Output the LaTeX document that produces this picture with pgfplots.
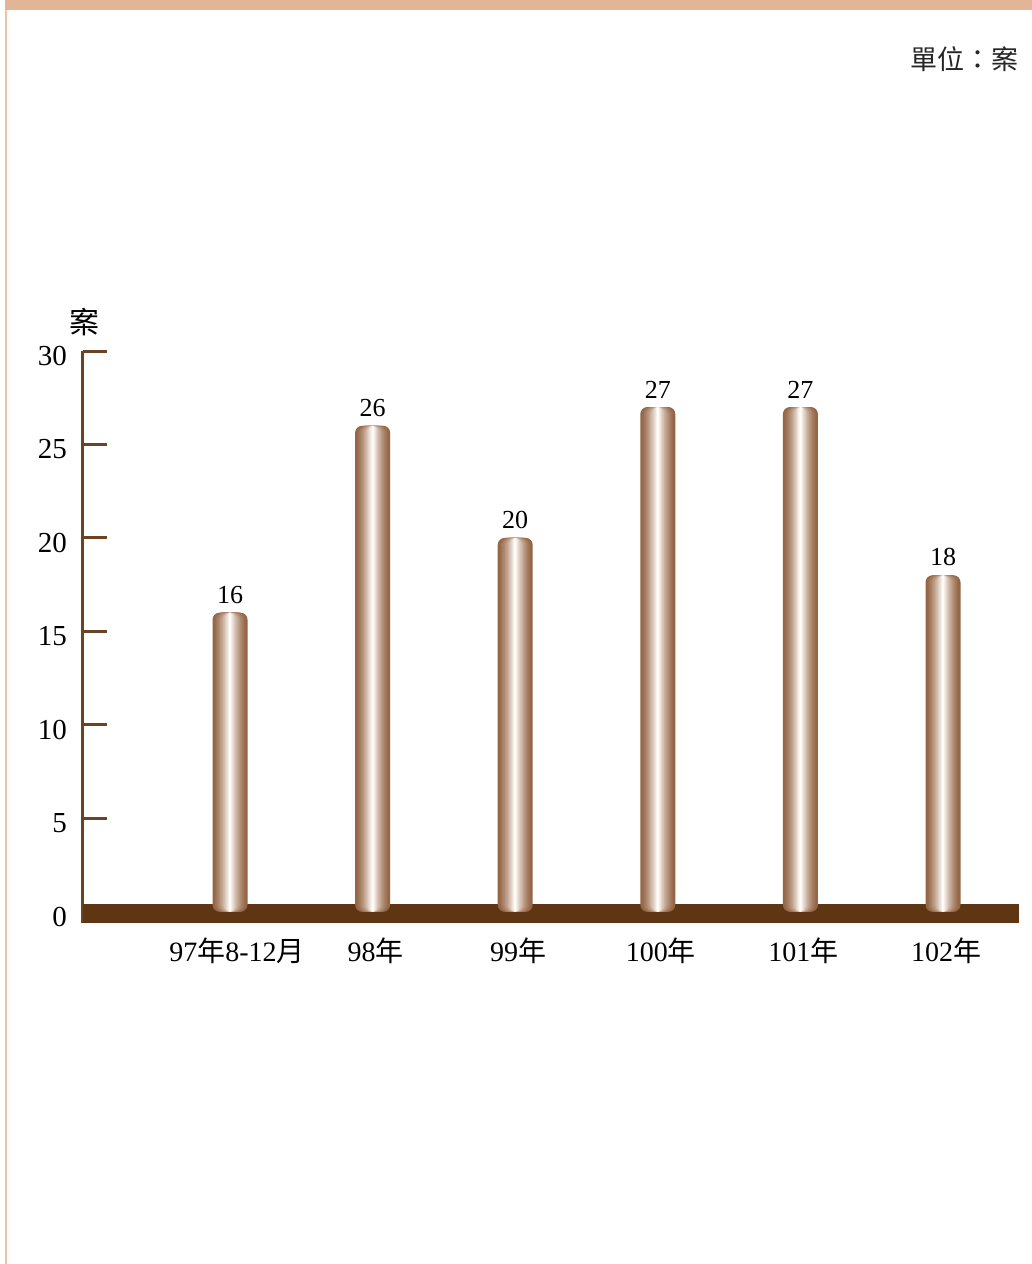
\documentclass[border=0pt]{standalone}
\usepackage{fontspec}
\setmainfont{Liberation Serif}
\newfontfamily\cjk{Noto Sans CJK TC}
\usepackage{pgfplots}
\usepackage{pgfplotstable}
\pgfplotsset{compat=1.18}

\definecolor{peach}{HTML}{E3B597}
\definecolor{peachline}{HTML}{EEC2A8}
\definecolor{baseband}{HTML}{5E3613}
\definecolor{axisbrown}{HTML}{6B4423}
\definecolor{barbrown}{HTML}{946444}
\definecolor{barlight}{HTML}{FFFCF8}

\pgfplotstableread{
x cases
0 16
1 26
2 20
3 27
4 27
5 18
}\casedata

\begin{document}
\begin{tikzpicture}
  % page frame, 1 px = 0.5pt
  \fill[white] (0,0) rectangle (516pt,-632pt);
  \fill[peach] (2.5pt,0) rectangle (516pt,-5pt);
  \fill[peachline] (2.5pt,-5pt) rectangle (3.6pt,-632pt);
  \node[anchor=east, font=\cjk\fontsize{13.5}{15}\selectfont, text=black!85]
    at (513pt,-29.5pt) {單位：案};

  \begin{axis}[
      at={(41.5pt,-461.5pt)}, anchor=south west,
      scale only axis,
      width=468pt, height=286pt,
      xmin=-1.031, xmax=5.533,
      ymin=-0.6, ymax=30,
      clip=false,
      axis y line*=left,
      axis x line*=bottom,
      x axis line style={draw=none},
      y axis line style={draw=axisbrown, line width=1.5pt},
      ytick={0,5,...,30},
      major tick length=12pt,
      tick align=inside,
      ytick style={draw=axisbrown, line width=1.5pt},
      xtick style={draw=none},
      yticklabel style={font=\fontsize{14.5}{16}\selectfont, xshift=-4.5pt, yshift=-2.5pt},
      /pgf/number format/assume math mode=true,
      xtick={0,...,5},
      xticklabels={\hspace*{4pt}97{\cjk 年}8-12{\cjk 月}, 98{\cjk 年}, 99{\cjk 年}, 100{\cjk 年}, 101{\cjk 年}, 102{\cjk 年}},
      xticklabel style={font=\fontsize{14}{16}\selectfont, yshift=-4pt, xshift=1.5pt},
      ylabel={\cjk 案},
      every axis y label/.style={at={(axis cs:-1.031,30)}, anchor=south,
        yshift=4pt, xshift=1pt, font=\fontsize{15}{17}\selectfont},
    ]
    \fill[baseband] (axis cs:-1.031,-0.59) rectangle (axis cs:5.533,0.43);
    % cylinder look: stacked bars, narrower and lighter towards the middle
    \pgfplotsinvokeforeach{0,...,15}{
      \pgfmathsetmacro\bw{17.5*(1-#1/16)}
      \pgfmathsetmacro\mix{100*(#1/15)^1.4}
      \pgfmathsetmacro\rc{min(3.5,0.45*\bw)}
      \edef\doplot{\noexpand\addplot[ybar, bar width=\bw pt, draw=none,
        fill=barlight!\mix!barbrown, rounded corners=\rc pt]
        table[x=x, y=cases] {\noexpand\casedata};}
      \doplot
    }
    \addplot[ybar, bar width=17.5pt, draw=none, fill=none,
        nodes near coords,
        every node near coord/.append style={font=\fontsize{13}{15}\selectfont, text=black, yshift=1pt}]
      table[x=x, y=cases] {\casedata};
  \end{axis}
\end{tikzpicture}
\end{document}
